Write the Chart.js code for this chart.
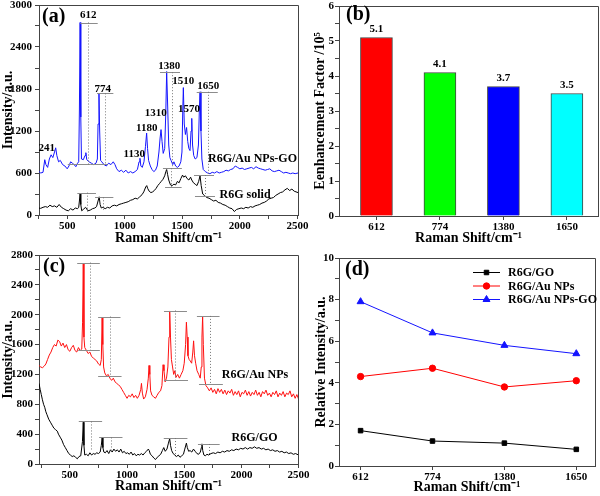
<!DOCTYPE html>
<html>
<head>
<meta charset="utf-8">
<script src="https://cdn.jsdelivr.net/npm/chart.js@4.4.0/dist/chart.umd.min.js"></script>
<style>
  body { margin: 0; background: #fff; }
  #wrap { position: relative; width: 600px; height: 496px; }
  #wrap canvas { position: absolute; left: 0; top: 0; }
</style>
</head>
<body>
<div id="wrap">
  <canvas id="ca" width="600" height="496"></canvas>
  <canvas id="cb" width="600" height="496"></canvas>
  <canvas id="cc" width="600" height="496"></canvas>
  <canvas id="cd" width="600" height="496"></canvas>
</div>
<script>
// ---- data ----

// (a) R6G/Au NPs-GO spectrum
const aGoShift = [250,270,290,305,315,330,345,360,375,390,400,410,425,440,460,480,500,515,530,545,560,575,590,600,606,612,618,624,640,655,662,670,690,710,730,750,762,768,776,782,790,800,820,840,860,880,900,915,930,950,970,990,1010,1030,1050,1070,1090,1110,1124,1132,1140,1152,1167,1180,1190,1198,1207,1222,1237,1252,1267,1282,1297,1307,1315,1324,1334,1347,1357,1364,1372,1382,1392,1402,1417,1427,1442,1457,1472,1487,1497,1504,1509,1517,1527,1537,1547,1557,1567,1576,1582,1589,1599,1612,1627,1640,1648,1654,1662,1670,1682,1700,1720,1740,1760,1780,1800,1820,1840,1860,1880,1900,1920,1940,1960,1980,2000,2020,2040,2060,2080,2100,2120,2140,2160,2180,2200,2220,2240,2260,2280,2300,2320,2340,2360,2380,2400,2420,2440,2460,2480,2505];
const aGoInt = [630,600,610,790,720,680,800,860,820,900,960,850,760,780,720,700,660,700,760,740,720,690,740,760,1500,2750,1400,800,790,850,890,790,760,740,720,740,800,1300,1730,1200,780,760,720,700,740,720,760,720,660,620,640,610,640,600,620,600,620,650,760,810,700,680,760,980,1170,950,780,700,650,620,640,700,900,1100,1220,1050,880,950,1500,2050,1600,1000,820,780,720,760,700,680,700,760,900,1500,1820,1300,1150,1250,1050,950,920,1200,1380,1000,850,800,820,1000,1500,1760,1200,800,650,620,600,590,610,600,620,600,610,620,640,630,650,660,700,680,660,670,650,660,670,680,660,690,670,660,650,640,650,660,630,620,630,640,620,600,610,600,590,600,590,600];

// (a) R6G solid spectrum
const aSolidShift = [250,270,290,310,330,350,370,390,410,430,450,470,490,510,530,550,570,590,600,606,612,618,626,640,660,680,700,720,740,755,768,778,786,796,810,830,850,870,890,910,930,950,970,990,1010,1030,1050,1070,1090,1110,1130,1150,1165,1182,1191,1199,1212,1227,1242,1257,1272,1287,1302,1317,1332,1347,1357,1364,1372,1382,1397,1412,1427,1442,1457,1472,1487,1502,1512,1527,1542,1557,1572,1582,1597,1612,1627,1642,1654,1664,1677,1692,1712,1732,1752,1772,1792,1812,1832,1852,1872,1892,1912,1932,1952,1972,1992,2012,2032,2052,2072,2092,2112,2132,2152,2172,2192,2212,2232,2252,2272,2292,2312,2332,2352,2372,2392,2412,2432,2452,2472,2505];
const aSolidInt = [100,95,110,120,110,140,120,130,110,150,110,90,70,60,90,70,100,90,110,200,310,150,60,80,110,60,70,90,100,120,200,260,150,100,110,90,110,100,130,140,130,150,160,170,180,190,210,220,240,230,260,290,330,400,420,380,340,320,330,350,380,420,450,480,510,560,620,650,580,500,430,420,440,430,480,460,520,570,540,560,520,500,540,500,460,440,420,480,560,420,300,280,250,240,220,200,210,180,170,150,140,120,100,90,50,80,90,100,90,110,100,120,110,130,140,150,170,180,200,230,240,250,280,300,320,330,360,380,350,370,340,320];

// (a) peak labels
const aPeakNames = ['241','612','774','1130','1180','1310','1380','1510','1570','1650'];
const aPeakAt = [[322,953],[683,2857],[808,1796],[1083,871],[1191,1247],[1269,1453],[1387,2129],[1509,1905],[1558,1510],[1726,1843]];

// (b) enhancement factors
const bShifts = ['612','774','1380','1650'];
const bFactor = [5.1, 4.1, 3.7, 3.5];

// (c) R6G/Au NPs spectrum
const cAuShift = [230,245,260,275,290,305,320,335,350,365,380,395,410,425,440,455,470,485,500,515,530,545,560,575,590,604,611,617,623,630,645,660,675,690,705,720,735,750,765,775,782,788,795,805,820,835,850,865,880,895,910,925,940,955,970,985,1000,1015,1030,1045,1060,1075,1090,1105,1120,1126,1134,1145,1160,1175,1186,1192,1199,1206,1218,1233,1248,1263,1278,1293,1305,1315,1323,1333,1345,1357,1367,1373,1380,1388,1398,1408,1418,1428,1443,1458,1473,1488,1500,1512,1519,1526,1533,1543,1553,1565,1575,1582,1590,1600,1612,1627,1640,1649,1655,1661,1667,1677,1690,1705,1720,1735,1750,1765,1780,1795,1810,1825,1840,1855,1870,1885,1900,1915,1930,1945,1960,1975,1990,2005,2020,2035,2050,2065,2080,2095,2110,2125,2140,2155,2170,2185,2200,2215,2230,2245,2260,2275,2290,2305,2320,2335,2350,2365,2380,2395,2410,2425,2440,2455,2470,2485,2500];
const cAuInt = [1320,1300,1290,1310,1340,1400,1460,1500,1560,1600,1580,1660,1640,1580,1620,1560,1600,1530,1510,1560,1590,1520,1500,1560,1520,1540,1900,2680,1700,1560,1520,1480,1500,1440,1420,1400,1380,1340,1320,1400,1960,1600,1300,1220,1180,1200,1150,1120,1150,1100,1080,1060,1040,1000,960,920,880,920,900,940,890,920,880,920,1000,1080,950,870,900,1000,1150,1320,1200,980,920,900,880,920,960,980,1050,1330,1250,1100,1150,1300,1700,2050,1700,1400,1300,1200,1250,1160,1200,1150,1200,1250,1350,1600,1900,1700,1450,1400,1380,1350,1500,1650,1450,1350,1250,1200,1150,1300,1700,1980,1600,1150,1050,1020,980,1020,960,1000,940,1010,960,1000,940,990,930,980,950,1000,920,970,930,980,900,960,940,990,920,970,910,960,930,990,920,960,900,970,940,990,920,950,900,960,930,980,900,950,920,970,900,950,930,980,900,940,880,930,870,900];

// (c) R6G/GO spectrum
const cGoShift = [230,240,250,260,270,280,290,300,315,330,345,360,375,390,400,415,430,445,460,475,490,505,520,535,550,565,580,595,610,617,623,630,645,660,675,690,705,720,735,750,765,775,782,789,797,810,825,840,855,870,885,900,915,930,945,960,975,990,1005,1020,1035,1050,1065,1080,1095,1110,1125,1140,1155,1170,1186,1194,1204,1219,1234,1249,1264,1279,1294,1309,1321,1334,1349,1362,1373,1380,1390,1403,1418,1433,1448,1463,1478,1493,1505,1519,1527,1539,1551,1566,1581,1596,1611,1626,1641,1650,1655,1662,1672,1684,1699,1714,1734,1754,1774,1794,1814,1834,1854,1874,1894,1914,1934,1954,1974,1994,2014,2034,2054,2074,2094,2114,2134,2154,2174,2194,2214,2234,2254,2274,2294,2314,2334,2354,2374,2394,2414,2434,2454,2474,2500];
const cGoInt = [1080,1000,930,860,800,760,700,660,600,560,520,480,460,440,400,360,320,260,220,180,140,120,100,110,90,70,100,110,300,560,250,120,130,110,150,120,140,130,150,140,160,250,350,220,160,150,180,140,190,160,200,170,190,160,200,150,170,140,150,130,160,120,140,110,130,120,140,120,150,170,200,180,130,110,80,60,90,110,130,180,220,170,200,280,340,250,180,140,120,100,120,90,110,130,200,280,220,170,180,160,200,170,140,130,160,220,270,180,120,110,130,120,140,150,140,160,150,170,160,180,170,190,180,200,190,210,200,220,200,220,210,230,210,220,200,210,190,200,180,190,170,180,160,170,150,160,140,150,130,140,120,130];

// (d) relative intensities at the four bands
const dShifts = ['612','774','1380','1650'];
const dGo = [1.7, 1.2, 1.1, 0.8];
const dAu = [4.3, 4.7, 3.8, 4.1];
const dAuGo = [7.9, 6.4, 5.8, 5.4];

// tick positions
const aXTicks = [250,500,750,1000,1250,1500,1750,2000,2250,2500];
const aYTicks = [0,300,600,900,1200,1500,1800,2100,2400,2700,3000];
const bYTicks = [0,0.5,1,1.5,2,2.5,3,3.5,4,4.5,5,5.5,6];
const cYTicks = [0,200,400,600,800,1000,1200,1400,1600,1800,2000,2200,2400,2600,2800];
const dYTicks = [0,1,2,3,4,5,6,7,8,9,10];

// ---- drawing ----
const SERIF = "'Liberation Serif', 'Times New Roman', serif";
Chart.defaults.font.family = SERIF;
Chart.defaults.font.weight = 'bold';
Chart.defaults.color = '#000';

const pts = (xs, ys) => xs.map((x, i) => ({ x: x, y: ys[i] }));

function axis(o) {
  return {
    type: 'linear', min: o.min, max: o.max, offset: false,
    afterBuildTicks: s => { s.ticks = o.ticks.map(v => ({ value: v })); },
    afterFit: s => {
      if (o.horiz) { s.height = o.size; s.paddingLeft = 0; s.paddingRight = 0; }
      else { s.width = o.size; s.paddingTop = 0; s.paddingBottom = 0; }
    },
    ticks: { autoSkip: false, maxRotation: 0, padding: o.tickPad, callback: o.label,
             font: { size: 11, weight: 'bold' }, color: '#000' },
    grid: { display: true, drawOnChartArea: false, drawTicks: true, tickLength: 4, color: '#444', offset: false },
    border: { display: true, color: '#444', width: 1 },
    title: { display: true, text: o.title, color: '#000',
             font: { size: 14, weight: 'bold' }, padding: { top: o.titlePad || 0, bottom: 0 } }
  };
}

const every = step => v => (Math.abs(v / step - Math.round(v / step)) < 1e-6 ? String(v) : '');

const marks = {
  id: 'marks',
  afterDatasetsDraw(chart, args, opts) {
    const { ctx, chartArea: a, scales: { x, y } } = chart;
    ctx.save();
    // box frame
    ctx.strokeStyle = '#444';
    ctx.lineWidth = 1;
    ctx.beginPath();
    ctx.moveTo(a.left, a.top + 0.5); ctx.lineTo(a.right + 0.5, a.top + 0.5);
    ctx.lineTo(a.right + 0.5, a.bottom);
    ctx.stroke();

    // peak brackets: [x1, x2, yTop, xb1, xb2, yBot, xDot]
    (opts.brackets || []).forEach(b => {
      ctx.strokeStyle = '#8c8c8c';
      ctx.setLineDash([]);
      ctx.beginPath();
      ctx.moveTo(x.getPixelForValue(b[0]), Math.round(y.getPixelForValue(b[2])) + 0.5);
      ctx.lineTo(x.getPixelForValue(b[1]), Math.round(y.getPixelForValue(b[2])) + 0.5);
      if (b[3] !== null) {
        ctx.moveTo(x.getPixelForValue(b[3]), Math.round(y.getPixelForValue(b[5])) + 0.5);
        ctx.lineTo(x.getPixelForValue(b[4]), Math.round(y.getPixelForValue(b[5])) + 0.5);
      }
      ctx.stroke();
      ctx.setLineDash([1, 2]);
      ctx.strokeStyle = '#777';
      ctx.beginPath();
      const xd = Math.round(x.getPixelForValue(b[6])) + 0.5;
      ctx.moveTo(xd, y.getPixelForValue(b[2]));
      ctx.lineTo(xd, y.getPixelForValue(b[5]));
      ctx.stroke();
    });
    ctx.setLineDash([]);

    // texts in data coordinates: [text, x, y, size]
    ctx.fillStyle = '#000';
    ctx.textAlign = 'center';
    ctx.textBaseline = 'middle';
    (opts.texts || []).forEach(t => {
      ctx.font = 'bold ' + t[3] + 'px ' + SERIF;
      ctx.fillText(t[0], x.getPixelForValue(t[1]), y.getPixelForValue(t[2]));
    });

    // bar value labels
    if (opts.barLabels) {
      ctx.font = 'bold 11px ' + SERIF;
      chart.getDatasetMeta(0).data.forEach((bar, i) => {
        ctx.fillText(String(chart.data.datasets[0].data[i].y), bar.x, bar.y - 8);
      });
    }

    // panel letter
    ctx.textAlign = 'left';
    ctx.font = 'bold 20px ' + SERIF;
    ctx.fillText(opts.panel[0], a.left + opts.panel[1], a.top + opts.panel[2]);

    // legend
    if (opts.legend) {
      ctx.font = 'bold 12px ' + SERIF;
      chart.data.datasets.forEach((ds, i) => {
        const ly = opts.legend[1] + i * 13.5;
        const lx = opts.legend[0];
        ctx.strokeStyle = ds.borderColor;
        ctx.fillStyle = ds.borderColor;
        ctx.lineWidth = 1;
        ctx.beginPath();
        ctx.moveTo(lx, ly + 0.5); ctx.lineTo(lx + 27, ly + 0.5);
        ctx.stroke();
        Chart.helpers.drawPoint(ctx, { pointStyle: ds.pointStyle, radius: ds.pointRadius, borderWidth: 1, rotation: 0 }, lx + 13.5, ly + 0.5);
        ctx.fillStyle = '#000';
        ctx.fillText(ds.label, lx + 35, ly + 1);
      });
    }
    ctx.restore();
  }
};

const common = { responsive: false, animation: false, devicePixelRatio: 1, events: [] };
const spec = (pairs, color) => ({ data: pairs, borderColor: color, borderWidth: 1, pointRadius: 0, tension: 0, fill: false });

// (a)
new Chart(document.getElementById('ca'), {
  type: 'line',
  data: { datasets: [spec(pts(aSolidShift, aSolidInt), '#000'), spec(pts(aGoShift, aGoInt), '#1414ff')] },
  options: Object.assign({}, common, {
    layout: { padding: { left: 0, top: 5, right: 302, bottom: 249 } },
    scales: {
      x: axis({ min: 255, max: 2505, ticks: aXTicks, label: every(500), horiz: true, size: 32, tickPad: 1, title: 'Raman Shift/cm\u207B\u00B9' }),
      y: axis({ min: 0, max: 3000, ticks: aYTicks, label: every(600), size: 39, tickPad: 3, title: 'Intensity/a.u.' })
    },
    plugins: {
      legend: { display: false }, tooltip: { enabled: false },
      marks: {
        panel: ['(a)', 3, 12],
        brackets: [
          [614, 765, 2750, 505, 700, 722, 678],
          [759, 901, 1738, 700, 850, 722, 828],
          [1306, 1480, 2040, 1332, 1494, 668, 1408],
          [1625, 1808, 1760, 1602, 1775, 571, 1726],
          [588, 750, 319, null, null, 47, 669],
          [742, 901, 253, null, null, 71, 814],
          [1332, 1494, 668, 1350, 1494, 400, 1404],
          [1602, 1775, 571, 1610, 1784, 271, 1700]
        ],
        texts: aPeakNames.map((n, i) => [n, aPeakAt[i][0], aPeakAt[i][1], 11])
          .concat([['R6G/Au NPs-GO', 2110, 800, 12], ['R6G solid', 2045, 286, 12]])
      }
    }
  }),
  plugins: [marks]
});

// (b)
new Chart(document.getElementById('cb'), {
  type: 'bar',
  data: { datasets: [{
    data: bFactor.map((v, i) => ({ x: i + 1, y: v })),
    backgroundColor: ['#ff0000', '#00ff00', '#0000ff', '#00ffff'],
    borderColor: '#444', borderWidth: 1, barThickness: 32
  }] },
  options: Object.assign({}, common, {
    layout: { padding: { left: 300, top: 6, right: 2, bottom: 249 } },
    scales: {
      x: axis({ min: 0.41, max: 4.49, ticks: [1, 2, 3, 4], label: (v) => bShifts[v - 1] || '', horiz: true, size: 31, tickPad: 1, title: 'Raman Shift/cm\u207B\u00B9' }),
      y: axis({ min: 0, max: 6, ticks: bYTicks, label: every(1), size: 39, tickPad: 1, titlePad: 12, title: 'Eenhancement Factor /10\u2075' })
    },
    plugins: {
      legend: { display: false }, tooltip: { enabled: false },
      marks: { panel: ['(b)', 7, 9], barLabels: true }
    }
  }),
  plugins: [marks]
});

// (c)
new Chart(document.getElementById('cc'), {
  type: 'line',
  data: { datasets: [spec(pts(cGoShift, cGoInt), '#000'), spec(pts(cAuShift, cAuInt), '#ff1010')] },
  options: Object.assign({}, common, {
    layout: { padding: { left: 0, top: 255, right: 302, bottom: 1 } },
    scales: {
      x: axis({ min: 230, max: 2495, ticks: aXTicks.filter(v => v >= 230), label: every(500), horiz: true, size: 31, tickPad: 1, title: 'Raman Shift/cm\u207B\u00B9' }),
      y: axis({ min: 0, max: 2800, ticks: cYTicks, label: every(400), size: 39, tickPad: 2, title: 'Intensity/a.u.' })
    },
    plugins: {
      legend: { display: false }, tooltip: { enabled: false },
      marks: {
        panel: ['(c)', 4, 12],
        brackets: [
          [564, 762, 2698, 573, 762, 1529, 675],
          [747, 943, 1975, 747, 952, 1182, 850],
          [1323, 1524, 2056, 1323, 1533, 1128, 1423],
          [1611, 1809, 1984, 1629, 1838, 1070, 1722],
          [578, 782, 570, null, null, 169, 681],
          [756, 960, 356, null, null, 191, 856],
          [1321, 1528, 348, null, null, 102, 1417],
          [1620, 1810, 268, null, null, 124, 1713]
        ],
        texts: [['R6G/Au NPs', 2119, 1195, 12], ['R6G/GO', 2115, 352, 12]]
      }
    }
  }),
  plugins: [marks]
});

// (d)
const dLine = (label, vals, color, style, r) => ({
  label: label, data: vals.map((v, i) => ({ x: i + 1, y: v })),
  borderColor: color, backgroundColor: color, borderWidth: 1,
  pointStyle: style, pointRadius: r, pointBorderWidth: 1, tension: 0, fill: false
});
new Chart(document.getElementById('cd'), {
  type: 'line',
  data: { datasets: [
    dLine('R6G/GO', dGo, '#000000', 'rect', 3.2),
    dLine('R6G/Au NPs', dAu, '#ff0000', 'circle', 3.2),
    dLine('R6G/Au NPs-GO', dAuGo, '#1414ff', 'triangle', 4)
  ] },
  options: Object.assign({}, common, {
    layout: { padding: { left: 300, top: 258, right: 2, bottom: 0 } },
    scales: {
      x: axis({ min: 0.7, max: 4.26, ticks: [1, 2, 3, 4], label: (v) => dShifts[v - 1] || '', horiz: true, size: 30, tickPad: 1, title: 'Raman Shift/cm\u207B\u00B9' }),
      y: axis({ min: 0, max: 10, ticks: dYTicks, label: every(2), size: 39, tickPad: 1, titlePad: 13, title: 'Relative Intensity/a.u.' })
    },
    plugins: {
      legend: { display: false }, tooltip: { enabled: false },
      marks: { panel: ['(d)', 6, 12], legend: [473, 272] }
    }
  }),
  plugins: [marks]
});
</script>
</body>
</html>
